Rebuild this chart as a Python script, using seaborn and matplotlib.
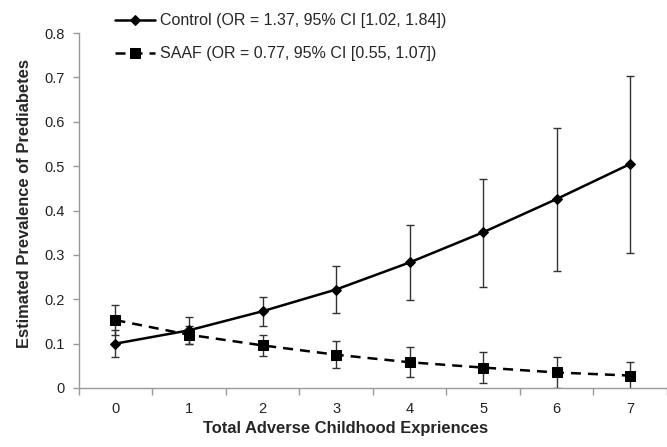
import numpy as np
import pandas as pd
import matplotlib
matplotlib.use("Agg")
import matplotlib.pyplot as plt
import seaborn as sns

# values
aces = [0, 1, 2, 3, 4, 5, 6, 7]
control_est = [0.100, 0.130, 0.173, 0.222, 0.283, 0.351, 0.426, 0.505]
control_lo = [0.070, 0.100, 0.139, 0.168, 0.198, 0.228, 0.263, 0.304]
control_hi = [0.130, 0.159, 0.206, 0.275, 0.367, 0.472, 0.587, 0.703]
saaf_est = [0.153, 0.120, 0.096, 0.075, 0.058, 0.046, 0.035, 0.028]
saaf_lo = [0.119, 0.100, 0.072, 0.045, 0.024, 0.011, 0.001, -0.004]
saaf_hi = [0.187, 0.140, 0.119, 0.105, 0.093, 0.081, 0.069, 0.059]
control_label = "Control (OR = 1.37, 95% CI [1.02, 1.84])"
saaf_label = "SAAF (OR = 0.77, 95% CI [0.55, 1.07])"
y_ticks = [0, 0.1, 0.2, 0.3, 0.4, 0.5, 0.6, 0.7, 0.8]
y_tick_labels = ["0", "0.1", "0.2", "0.3", "0.4", "0.5", "0.6", "0.7", "0.8"]

sns.set_style("white")
plt.rcParams['font.family'] = ['Liberation Sans', 'DejaVu Sans']

df = pd.DataFrame({
    'aces': aces * 2,
    'est': control_est + saaf_est,
    'lo': control_lo + saaf_lo,
    'hi': control_hi + saaf_hi,
    'group': [control_label] * 8 + [saaf_label] * 8,
})

fig, ax = plt.subplots(figsize=(6.67, 4.47), dpi=100)
plt.subplots_adjust(left=0.118, right=1.0, bottom=0.132, top=0.926)

# error bars first so the lines sit on top
for g in [control_label, saaf_label]:
    d = df[df['group'] == g]
    ax.errorbar(d['aces'], d['est'], yerr=[d['est'] - d['lo'], d['hi'] - d['est']],
                fmt='none', ecolor='#333333', elinewidth=1.0, capsize=3, capthick=1.0, zorder=2)

sns.lineplot(data=df, x='aces', y='est', hue='group', style='group',
             palette=['black', 'black'], dashes=[(None, None), (4, 2.8)],
             markers=['D', 's'], markersize=7, linewidth=1.8,
             markeredgecolor='black', ax=ax, zorder=3)

# resize markers per series
for ln in ax.get_lines():
    if ln.get_marker() == 'D':
        ln.set_markersize(5.5)
    elif ln.get_marker() == 's':
        ln.set_markersize(7.3)

ax.set_xlim(-0.5, 7.5)
ax.set_ylim(0, 0.8)
ax.set_yticks(y_ticks)
ax.set_yticklabels(y_tick_labels)
ax.set_xticks(aces)
ax.set_xticks(np.arange(-0.5, 8, 1), minor=True)
ax.tick_params(axis='x', which='major', length=0, labelsize=10.5, pad=10, labelcolor='#222222')
ax.tick_params(axis='x', which='minor', length=5, width=1, color='#999999', direction='out', bottom=True)
ax.tick_params(axis='y', which='major', length=4, width=1, color='#999999', direction='out', left=True,
               labelsize=10.5, pad=6, labelcolor='#222222')

for s in ['top', 'right']:
    ax.spines[s].set_visible(False)
for s in ['left', 'bottom']:
    ax.spines[s].set_color('#999999')
    ax.spines[s].set_linewidth(1)

ax.set_xlabel("Total Adverse Childhood Expriences", fontsize=11.9, fontweight='bold', labelpad=4, x=0.454)
ax.set_ylabel("Estimated Prevalence of Prediabetes", fontsize=11.9, fontweight='bold', labelpad=9, y=0.52)

leg = ax.legend(loc='upper left', bbox_to_anchor=(0.172, 0.970), bbox_transform=fig.transFigure,
                frameon=False, fontsize=11.5, handlelength=2.55, handletextpad=0.3,
                labelspacing=1.11, borderpad=0, borderaxespad=0)
for h in leg.legend_handles:
    if h.get_marker() == 'D':
        h.set_markersize(5.5)
    else:
        h.set_markersize(7.3)

fig.savefig('out.png', dpi=100)
